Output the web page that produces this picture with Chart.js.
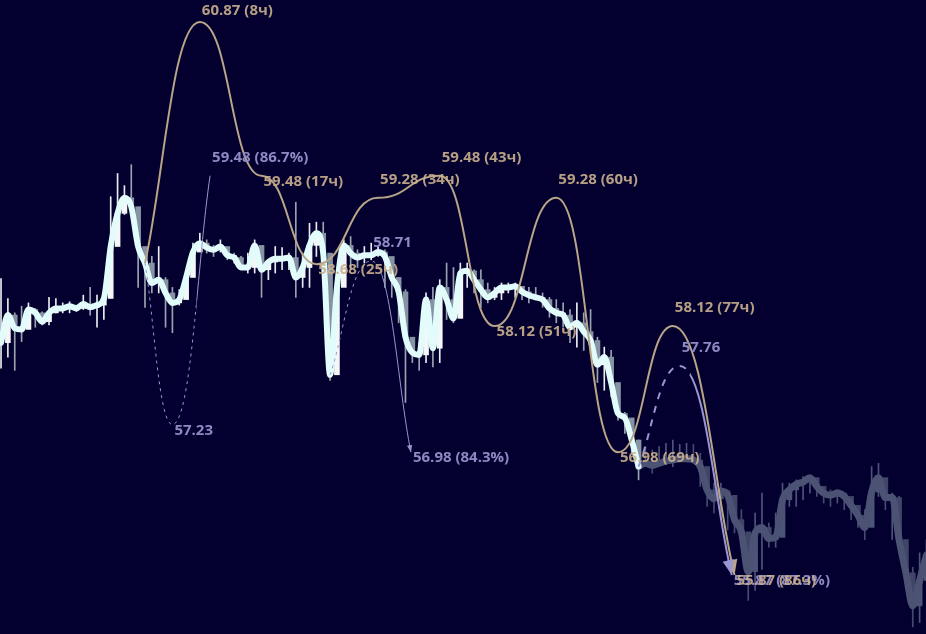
<!DOCTYPE html>
<html>
<head>
<meta charset="utf-8">
<script src="https://cdn.jsdelivr.net/npm/chart.js@4/dist/chart.umd.min.js"></script>
<style>
  html, body { margin: 0; padding: 0; background: #03002f; overflow: hidden; }
  canvas { display: block; }
</style>
</head>
<body>
<canvas id="chart" width="926" height="634"></canvas>
<script>
// hourly candles, hour 0 = start of the forecast
const firstHour = -21;
const nowHour = 72;

const closes = [
  57.97, 58.22, 58.10, 58.09, 58.27, 58.24, 58.16, 58.24, 58.28, 58.28, 58.30, 58.28, 58.32, 58.29, 58.31, 58.37, 58.84, 59.14, 59.28, 59.20, 58.84,
  58.69, 58.51, 58.54, 58.42, 58.33, 58.36, 58.56, 58.79, 58.87, 58.83, 58.81, 58.84, 58.76, 58.74, 58.65, 58.65, 58.85, 58.63, 58.70, 58.73,
  58.73, 58.74, 58.56, 58.65, 58.85, 58.96, 58.78, 57.68, 58.47, 58.85, 58.78, 58.74, 58.76, 58.76, 58.79, 58.75, 58.56, 58.43, 58.02, 57.88,
  57.86, 58.36, 57.92, 58.47, 58.36, 58.19, 58.60, 58.62, 58.54, 58.45, 58.38, 58.42, 58.47, 58.47, 58.48, 58.43, 58.40, 58.38, 58.36, 58.28,
  58.24, 58.22, 58.11, 58.15, 58.07, 57.99, 57.77, 57.84, 57.61, 57.33, 57.29, 57.09, 56.85, 56.88, 56.86, 56.88, 56.90, 56.91, 56.92, 56.92,
  56.91, 56.85, 56.64, 56.56, 56.63, 56.59, 56.37, 56.26, 55.90, 56.25, 56.30, 56.20, 56.21, 56.55, 56.64, 56.69, 56.71, 56.75, 56.67, 56.61,
  56.59, 56.61, 56.58, 56.50, 56.41, 56.30, 56.62, 56.75, 56.57, 56.57, 56.19, 55.89, 55.59, 55.82, 56.05
];
const highs = [
  58.55, 58.37, 58.24, 58.30, 58.33, 58.28, 58.25, 58.38, 58.37, 58.33, 58.34, 58.31, 58.40, 58.47, 58.40, 58.38, 59.29, 59.50, 59.39, 59.58, 59.14,
  58.75, 58.75, 58.84, 58.56, 58.47, 58.45, 58.56, 58.87, 58.96, 58.90, 58.85, 58.90, 58.81, 58.78, 58.75, 58.78, 58.90, 58.72, 58.72, 58.84,
  58.83, 58.78, 59.24, 58.78, 59.05, 59.06, 59.06, 58.38, 58.63, 58.90, 58.93, 58.81, 58.84, 58.87, 58.84, 58.81, 58.65, 58.56, 58.45, 57.93,
  57.97, 58.42, 58.47, 58.54, 58.69, 58.65, 58.69, 58.69, 58.63, 58.63, 58.51, 58.47, 58.51, 58.51, 58.51, 58.47, 58.47, 58.47, 58.42, 58.38,
  58.36, 58.33, 58.27, 58.33, 58.24, 58.27, 58.02, 57.93, 57.90, 57.48, 57.34, 57.27, 57.09, 57.03, 57.00, 57.03, 57.06, 57.09, 57.05, 57.06,
  57.05, 56.97, 56.85, 56.70, 56.70, 56.64, 56.52, 56.46, 56.25, 56.43, 56.61, 56.34, 56.43, 56.70, 56.70, 56.73, 56.76, 56.76, 56.73, 56.67,
  56.64, 56.64, 56.61, 56.55, 56.49, 56.46, 56.85, 56.88, 56.67, 56.61, 56.58, 56.07, 55.94, 56.07, 56.19
];
const lows = [
  57.74, 57.84, 57.72, 57.98, 58.11, 58.11, 58.13, 58.13, 58.24, 58.24, 58.24, 58.25, 58.27, 58.22, 58.11, 58.18, 58.38, 58.96, 59.13, 59.14, 58.47,
  58.29, 58.42, 58.42, 58.11, 58.06, 58.31, 58.38, 58.72, 58.84, 58.78, 58.75, 58.79, 58.72, 58.69, 58.63, 58.60, 58.60, 58.38, 58.54, 58.60,
  58.63, 58.63, 58.38, 58.47, 58.47, 58.75, 58.51, 57.63, 58.11, 58.54, 58.63, 58.65, 58.69, 58.72, 58.75, 58.47, 58.38, 58.15, 57.43, 57.79,
  57.72, 57.79, 57.75, 57.79, 58.18, 58.15, 58.27, 58.47, 58.42, 58.29, 58.33, 58.36, 58.36, 58.42, 58.38, 58.36, 58.33, 58.36, 58.29, 58.20,
  58.15, 58.11, 57.97, 57.93, 57.90, 57.88, 57.61, 57.54, 57.48, 57.27, 57.15, 56.97, 56.73, 56.85, 56.79, 56.85, 56.88, 56.85, 56.91, 56.91,
  56.91, 56.67, 56.49, 56.43, 56.37, 56.28, 56.25, 56.12, 55.64, 55.73, 55.92, 56.12, 56.12, 56.25, 56.49, 56.49, 56.55, 56.61, 56.58, 56.52,
  56.49, 56.52, 56.46, 56.37, 56.30, 56.19, 56.39, 56.58, 56.46, 56.19, 56.07, 55.82, 55.40, 55.44, 55.92
];

// gold forecast curve (hours from start)
const goldHours = [0, 8, 17, 25, 34, 43, 51, 60, 69, 77, 86];
const goldValues = [58.69, 60.87, 59.48, 58.68, 59.28, 59.48, 58.12, 59.28, 56.98, 58.12, 55.87];

// purple projections: start -> turning point -> target
const projStartHours = [0, 27, 72];
const projStartValues = [58.69, 57.68, 56.85];
const projMidHours = [4, 33, 78];
const projMidValues = [57.23, 58.71, 57.76];
const projEndHours = [9.5, 38.8, 85.6];
const projEndValues = [59.48, 56.98, 55.87];
const projProb = [86.7, 84.3, 87.3];

const BG = '#03002f';
const GOLD_LINE = '#b9a587';
const GOLD_TEXT = '#cbb08e';
const PURPLE_LINE = '#9b96d2';
const PURPLE_TEXT = '#8d89c4';

const hours = closes.map((_, i) => firstHour + i);
const opens = closes.map((c, i) => i === 0 ? c : closes[i - 1]);

const wickData = hours.map((h, i) => ({ x: h, y: [lows[i], highs[i]] }));
const bodyData = hours.map((h, i) => ({ x: h, y: [opens[i], closes[i]] }));
const pastLine = hours.map((h, i) => ({ x: h, y: closes[i] })).filter(p => p.x <= nowHour);
const futureLine = hours.map((h, i) => ({ x: h, y: closes[i] })).filter(p => p.x >= nowHour);

function candleColor(ctx, up, down, futureUp, futureDown) {
  const i = ctx.dataIndex;
  const isUp = closes[i] >= opens[i];
  if (hours[i] > nowHour) return isUp ? futureUp : futureDown;
  return isUp ? up : down;
}

// smooth path through knots, flat at inner knots
function tracePath(ctx, pts) {
  const n = pts.length;
  ctx.moveTo(pts[0].x, pts[0].y);
  let lastCtrl = pts[0];
  for (let i = 1; i < n; i++) {
    const a = pts[i - 1], b = pts[i];
    const dx = b.x - a.x, dy = b.y - a.y;
    const c1 = i === 1 ? { x: a.x + dx / 3, y: a.y + dy / 3 } : { x: a.x + dx / 2, y: a.y };
    const c2 = i === n - 1 ? { x: b.x - dx / 3, y: b.y - dy / 3 } : { x: b.x - dx / 2, y: b.y };
    ctx.bezierCurveTo(c1.x, c1.y, c2.x, c2.y, b.x, b.y);
    lastCtrl = c2;
  }
  return lastCtrl;
}

function arrowHead(ctx, from, to, len, width, color) {
  const ang = Math.atan2(to.y - from.y, to.x - from.x);
  const bx = to.x - Math.cos(ang) * len, by = to.y - Math.sin(ang) * len;
  const px = -Math.sin(ang) * width / 2, py = Math.cos(ang) * width / 2;
  ctx.beginPath();
  ctx.moveTo(to.x, to.y);
  ctx.lineTo(bx + px, by + py);
  ctx.lineTo(bx - px, by - py);
  ctx.closePath();
  ctx.fillStyle = color;
  ctx.fill();
}

function drawLabel(ctx, text, p, rising, color) {
  ctx.fillStyle = color;
  ctx.textAlign = 'left';
  ctx.textBaseline = 'middle';
  const cy = Math.max(rising ? p.y - 18 : p.y + 6, 11);
  ctx.fillText(text, p.x + 2, cy);
}

const backgroundPlugin = {
  id: 'background',
  beforeDraw(chart) {
    const ctx = chart.ctx;
    ctx.save();
    ctx.fillStyle = BG;
    ctx.fillRect(0, 0, chart.width, chart.height);
    ctx.restore();
  }
};

const forecastPlugin = {
  id: 'forecast',
  afterDatasetsDraw(chart) {
    const ctx = chart.ctx;
    const xs = chart.scales.x, ys = chart.scales.y;
    const px = (h, v) => ({ x: xs.getPixelForValue(h), y: ys.getPixelForValue(v) });
    const area = chart.chartArea;

    // gold curve
    const goldPts = goldHours.map((h, i) => px(h, goldValues[i]));
    ctx.save();
    ctx.beginPath();
    const goldCtrl = tracePath(ctx, goldPts);
    ctx.strokeStyle = GOLD_LINE;
    ctx.lineWidth = 2;
    ctx.stroke();
    arrowHead(ctx, goldCtrl, goldPts[goldPts.length - 1], 15, 13, GOLD_LINE);
    ctx.restore();

    // purple projections
    const widths = [1, 1, 2];
    const dashes = [[3, 4], [3, 4], [7, 7]];
    const arrows = [0, 7, 15];
    projStartHours.forEach((h0, k) => {
      const pts = [px(h0, projStartValues[k]), px(projMidHours[k], projMidValues[k]), px(projEndHours[k], projEndValues[k])];
      const splitX = xs.getPixelForValue(h0 + 7.5);
      let ctrl;
      [[area.left, splitX, dashes[k]], [splitX, area.right, []]].forEach(([x0, x1, dash]) => {
        ctx.save();
        ctx.beginPath();
        ctx.rect(x0, area.top, x1 - x0, area.bottom - area.top);
        ctx.clip();
        ctx.beginPath();
        ctrl = tracePath(ctx, pts);
        ctx.setLineDash(dash);
        ctx.strokeStyle = PURPLE_LINE;
        ctx.lineWidth = widths[k];
        ctx.stroke();
        ctx.restore();
      });
      if (arrows[k]) arrowHead(ctx, ctrl, pts[2], arrows[k], arrows[k] * 0.75, PURPLE_LINE);
    });

    // labels
    ctx.save();
    ctx.font = 'bold 15px "Open Sans", "Noto Sans", sans-serif';
    projStartHours.forEach((h0, k) => {
      const mid = px(projMidHours[k], projMidValues[k]);
      const end = px(projEndHours[k], projEndValues[k]);
      drawLabel(ctx, projMidValues[k].toFixed(2), mid, projMidValues[k] > projStartValues[k], PURPLE_TEXT);
      drawLabel(ctx, projEndValues[k].toFixed(2) + ' (' + projProb[k].toFixed(1) + '%)', end,
        projEndValues[k] > projMidValues[k], PURPLE_TEXT);
    });
    ctx.globalAlpha = 0.9;
    goldPts.forEach((p, i) => {
      if (i === 0) return;
      drawLabel(ctx, goldValues[i].toFixed(2) + ' (' + goldHours[i] + 'ч)', p, goldValues[i] > goldValues[i - 1], GOLD_TEXT);
    });
    ctx.restore();
  }
};

new Chart(document.getElementById('chart'), {
  type: 'bar',
  data: {
    datasets: [
      {
        type: 'line',
        data: pastLine,
        borderColor: '#e2fcfc',
        borderWidth: 6,
        pointRadius: 0,
        cubicInterpolationMode: 'monotone',
        borderCapStyle: 'round',
        borderJoinStyle: 'round',
        order: 0
      },
      {
        type: 'line',
        data: futureLine,
        borderColor: '#4b5274',
        borderWidth: 7,
        pointRadius: 0,
        cubicInterpolationMode: 'monotone',
        borderCapStyle: 'round',
        borderJoinStyle: 'round',
        order: 1
      },
      {
        data: bodyData,
        grouped: false,
        barThickness: 5,
        backgroundColor: ctx => candleColor(ctx, '#f4f6f8', '#8593a3', '#4d5577', '#3f4668'),
        order: 2
      },
      {
        data: wickData,
        grouped: false,
        barThickness: 1,
        backgroundColor: ctx => candleColor(ctx, '#e8ecf0', '#9aa4b0', '#4d5577', '#444b6c'),
        order: 3
      }
    ]
  },
  options: {
    responsive: false,
    animation: false,
    devicePixelRatio: 1,
    layout: { padding: 0 },
    plugins: { legend: { display: false }, tooltip: { enabled: false } },
    scales: {
      x: { type: 'linear', min: -21.15, max: 113.93, display: false, offset: false },
      y: { min: 55.336, max: 61.069, display: false }
    }
  },
  plugins: [backgroundPlugin, forecastPlugin]
});
</script>
</body>
</html>
